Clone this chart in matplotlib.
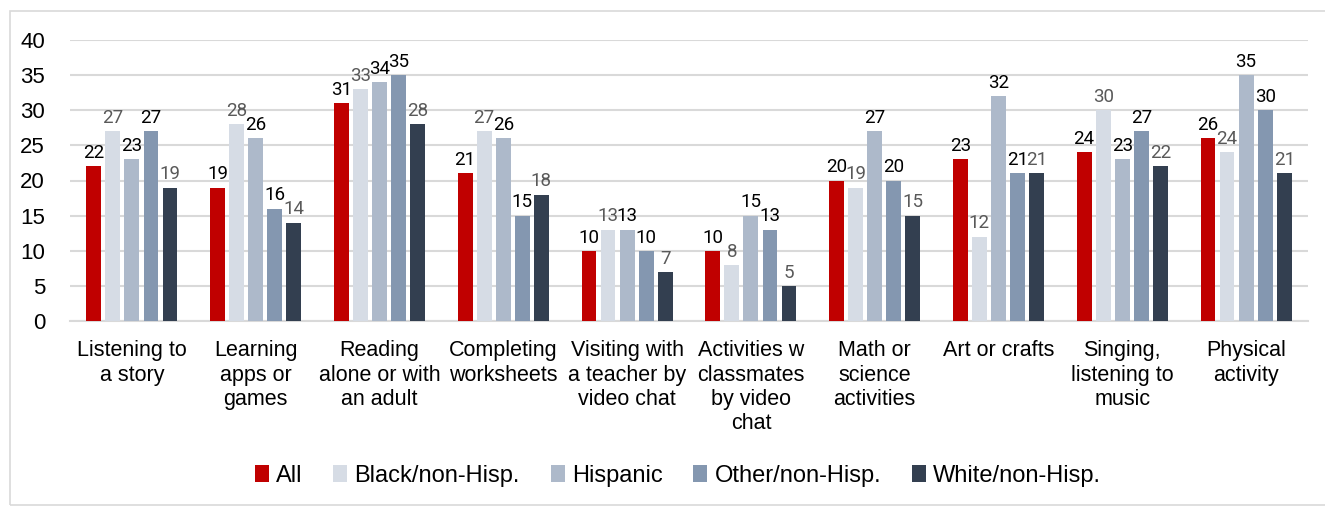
import numpy as np
import matplotlib
matplotlib.use("Agg")
from matplotlib import pyplot as plt
from matplotlib.patches import Rectangle

# data ##################################################################
categories = ["Listening to\na story", "Learning\napps or\ngames",
              "Reading\nalone or with\nan adult", "Completing\nworksheets",
              "Visiting with\na teacher by\nvideo chat",
              "Activities w\nclassmates\nby video\nchat",
              "Math or\nscience\nactivities", "Art or crafts",
              "Singing,\nlistening to\nmusic", "Physical\nactivity"]
series_names = ["All", "Black/non-Hisp.", "Hispanic", "Other/non-Hisp.", "White/non-Hisp."]
all_vals = [22, 19, 31, 21, 10, 10, 20, 23, 24, 26]
black_vals = [27, 28, 33, 27, 13, 8, 19, 12, 30, 24]
hisp_vals = [23, 26, 34, 26, 13, 15, 27, 32, 23, 35]
other_vals = [27, 16, 35, 15, 10, 13, 20, 21, 27, 30]
white_vals = [19, 14, 28, 18, 7, 5, 15, 21, 22, 21]
y_ticks = [0, 5, 10, 15, 20, 25, 30, 35, 40]

colors = ["#C00000", "#D6DCE5", "#ADB9CA", "#8497B0", "#333F50"]
label_colors = ["black", "#595959", "black", "black", "#595959"]
##########################################################################

plt.rcParams['font.family'] = ['Liberation Sans', 'DejaVu Sans']

fig = plt.figure(figsize=(13.25, 5.08), dpi=100)
ax = fig.add_axes([70/1325, 1-321/508, 1238/1325, 281/508])

# outer border
fig.patches.append(Rectangle((10/1325, 3/508), 1.0, 1-14/508, transform=fig.transFigure,
                             fill=False, edgecolor="#D9D9D9", linewidth=1.2))

x = np.arange(len(categories))
step = 0.154
width = 0.12
data = [all_vals, black_vals, hisp_vals, other_vals, white_vals]
for i, vals in enumerate(data):
    pos = x + (i - 2) * step
    bars = ax.bar(pos, vals, width=width, color=colors[i], label=series_names[i], zorder=3)
    for xx, v in zip(pos, vals):
        ax.text(xx, v + 0.6, str(v), ha='center', va='bottom', fontsize=13.5,
                color=label_colors[i], family=['Roboto', 'DejaVu Sans'])

ax.set_xlim(-0.5, len(categories) - 0.5)
ax.set_ylim(0, 40)
ax.set_yticks(y_ticks)
ax.set_xticks(x)
ax.set_xticklabels(categories, fontsize=15.5, linespacing=1.2, va='top')
ax.tick_params(axis='both', length=0)
ax.tick_params(axis='y', labelsize=16, pad=18)
ax.tick_params(axis='x', pad=14)
ax.grid(axis='y', color="#D9D9D9", linewidth=1.5, zorder=0)
for s in ['top', 'right', 'left']:
    ax.spines[s].set_visible(False)
ax.spines['bottom'].set_color("#D9D9D9")
ax.spines['bottom'].set_linewidth(1.5)

fig.legend(loc='center', bbox_to_anchor=(678/1325, 1-476/508), ncol=5, frameon=False,
           fontsize=17, handlelength=0.6, handleheight=0.7, handletextpad=0.3,
           columnspacing=1.3)

fig.savefig("out.png", dpi=100)
plt.close()
